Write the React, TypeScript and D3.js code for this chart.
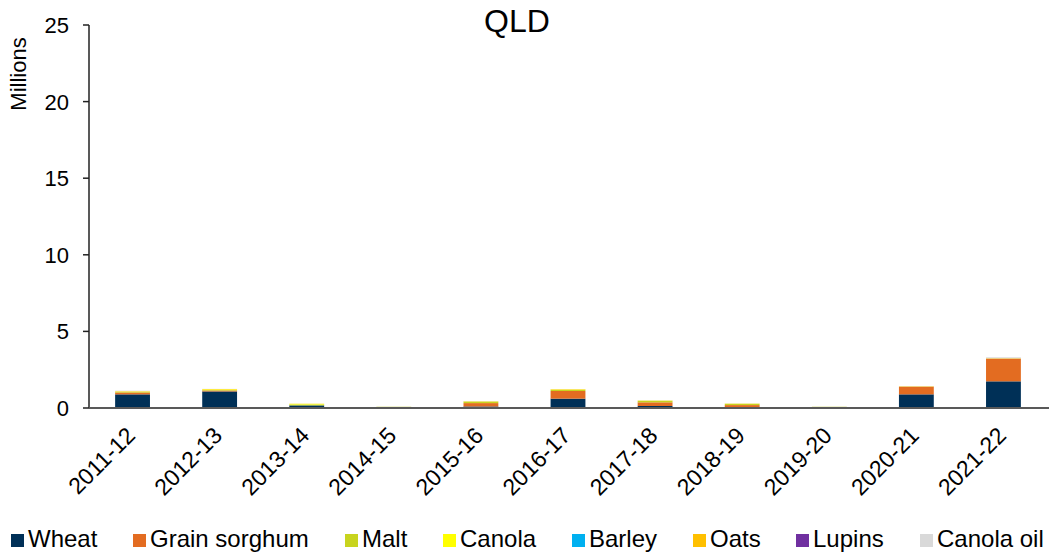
import React from "react";
import * as d3 from "d3";

const categories = ["2011-12","2012-13","2013-14","2014-15","2015-16","2016-17","2017-18","2018-19","2019-20","2020-21","2021-22"];
const seriesNames = ["Wheat","Grain sorghum","Malt","Canola","Barley","Oats","Lupins","Canola oil"];
const seriesColors = ["#003057","#E36C21","#C8D41E","#FFFF00","#00B0F0","#FFC000","#7030A0","#D9D9D9"];
const wheat =     [0.89, 1.08, 0.17, 0.00, 0.10, 0.61, 0.13, 0.02, 0.00, 0.89, 1.74];
const sorghum =   [0.12, 0.06, 0.00, 0.00, 0.22, 0.50, 0.24, 0.17, 0.00, 0.50, 1.48];
const malt =      [0.05, 0.04, 0.06, 0.08, 0.10, 0.08, 0.10, 0.08, 0.08, 0.01, 0.01];
const canola =    [0.02, 0.04, 0.04, 0.00, 0.01, 0.02, 0.01, 0.01, 0.00, 0.00, 0.00];
const barley =    [0, 0, 0, 0, 0, 0, 0, 0, 0, 0, 0];
const oats =      [0.02, 0.02, 0.01, 0.00, 0.01, 0.02, 0.01, 0.01, 0.00, 0.02, 0.02];
const lupins =    [0, 0, 0, 0, 0, 0, 0, 0, 0, 0, 0];
const canolaOil = [0.03, 0.01, 0.00, 0.01, 0.01, 0.00, 0.01, 0.01, 0.01, 0.01, 0.06];
const yTicks = [0, 5, 10, 15, 20, 25];
const title = "QLD";
const yLabel = "Millions";

const seriesValues = [wheat, sorghum, malt, canola, barley, oats, lupins, canolaOil];
const legendX = [11, 133, 345, 443, 572, 693, 796, 920];

const W = 1049, H = 555;
const left = 89, right = 1047, top = 25, bottom = 408;
const font = "Liberation Sans, Arial, sans-serif";

export default function App() {
  const x = d3.scaleBand<string>().domain(categories).range([left, right]).paddingInner(0.6).paddingOuter(0.3);
  const y = d3.scaleLinear().domain([0, 25]).range([bottom, top]);
  const rows = categories.map((c, i) => {
    const r: any = { cat: c };
    seriesNames.forEach((s, k) => (r[s] = seriesValues[k][i]));
    return r;
  });
  const stacked = d3.stack<any>().keys(seriesNames)(rows);

  return (
    <svg width={W} height={H} style={{ position: "absolute", left: 0, top: 0, background: "#fff" }} fontFamily={font}>
      <text x={517} y={32} fontSize={32} textAnchor="middle" fill="#000">{title}</text>
      <text transform={`translate(26,74) rotate(-90)`} fontSize={22} textAnchor="middle" fill="#000">{yLabel}</text>
      {stacked.map((layer, k) => (
        <g key={layer.key} fill={seriesColors[k]}>
          {layer.map((d, i) => {
            const h = y(d[0]) - y(d[1]);
            if (h <= 0) return null;
            return <rect key={i} x={x(categories[i])} width={x.bandwidth()} y={y(d[1])} height={h} />;
          })}
        </g>
      ))}
      <line x1={left} x2={left} y1={top} y2={bottom} stroke="#222" strokeWidth={1.5} />
      {yTicks.map(t => (
        <g key={t}>
          <line x1={left - 6} x2={left} y1={y(t)} y2={y(t)} stroke="#222" strokeWidth={1.5} />
          <text x={left - 20} y={y(t) + 8} fontSize={22} textAnchor="end" fill="#000">{t}</text>
        </g>
      ))}
      <line x1={left} x2={W} y1={bottom} y2={bottom} stroke="#595959" strokeWidth={2} />
      {categories.map(c => {
        const cx = (x(c) as number) + x.bandwidth() / 2;
        return (
          <text key={c} transform={`translate(${cx + 4},${bottom + 29}) rotate(-45)`} fontSize={23} textAnchor="end" fill="#000">{c}</text>
        );
      })}
      {seriesNames.map((s, k) => (
        <g key={s} transform={`translate(${legendX[k]},0)`}>
          <rect x={0} y={534} width={13} height={13} fill={seriesColors[k]} />
          <text x={17} y={547} fontSize={24} fill="#000">{s}</text>
        </g>
      ))}
    </svg>
  );
}
